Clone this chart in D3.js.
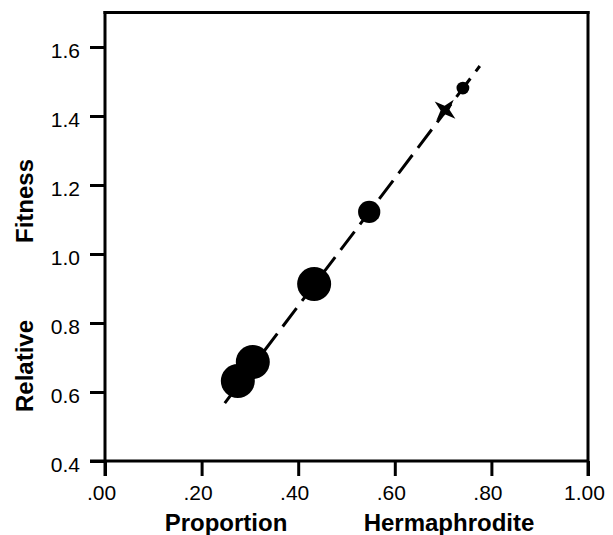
<!DOCTYPE html>
<html>
<head>
<meta charset="utf-8">
<script src="https://cdn.jsdelivr.net/npm/d3@7"></script>
<style>
    body { margin: 0; background: #fff; }
    svg { display: block; font-family: "Liberation Sans", Arial, Helvetica, sans-serif; }
</style>
</head>
<body>
<div id="svg-container"></div>
<script>

// proportion hermaphrodite vs relative fitness
const propHerm = [0.275, 0.306, 0.433, 0.547, 0.741];
const relFitness = [0.632, 0.687, 0.913, 1.122, 1.481];
const weight = [7, 7, 7, 3, 1];

// the "x" point
const crossX = [0.704];
const crossY = [1.417];

// fitted line, ends
const lineX = [0.248, 0.776];
const lineY = [0.568, 1.545];

const xTicks = [0, 0.2, 0.4, 0.6, 0.8, 1.0];
const xTickLabels = [".00", ".20", ".40", ".60", ".80", "1.00"];
const yTicks = [0.4, 0.6, 0.8, 1.0, 1.2, 1.4, 1.6];

const buildChart = () => {

    const [width, height] = [613, 535];
    const svg = d3.select("#svg-container")
        .append("svg")
        .attr("width", width)
        .attr("height", height);

    const x = d3.scaleLinear().domain([0, 1]).range([105, 588]);
    const y = d3.scaleLinear().domain([0.4, 1.7]).range([461, 12.5]);
    const r = d3.scaleSqrt().domain([0, 7]).range([0, 17]);

    const tickLen = 15;
    const stroke = 3;

    // frame + axis lines
    const frame = svg.append("g")
        .attr("stroke", "#000")
        .attr("stroke-width", stroke)
        .attr("fill", "none");

    frame.append("line")
        .attr("x1", x(0)).attr("x2", x(0))
        .attr("y1", y.range()[1] - 1.5).attr("y2", y(0.4) + tickLen);
    frame.append("line")
        .attr("x1", x(1)).attr("x2", x(1))
        .attr("y1", y.range()[1] - 1.5).attr("y2", y(0.4) + tickLen);
    frame.append("line")
        .attr("x1", x(0) - 1.5).attr("x2", x(1) + 1.5)
        .attr("y1", y.range()[1]).attr("y2", y.range()[1]);
    frame.append("line")
        .attr("x1", x(0) - tickLen).attr("x2", x(1))
        .attr("y1", y(0.4)).attr("y2", y(0.4));

    // x axis
    const xAxis = svg.append("g")
        .attr("transform", `translate(0,${y(0.4)})`)
        .call(d3.axisBottom(x)
            .tickValues(xTicks)
            .tickFormat((d, i) => xTickLabels[i])
            .tickSize(tickLen)
            .tickPadding(9));
    xAxis.select(".domain").remove();
    xAxis.selectAll(".tick line").attr("stroke-width", stroke);
    xAxis.selectAll(".tick text")
        .attr("font-size", 21)
        .attr("font-family", null)
        .attr("dx", -4)
        .attr("fill", "#000");

    // y axis
    const yAxis = svg.append("g")
        .attr("transform", `translate(${x(0)},0)`)
        .call(d3.axisLeft(y)
            .tickValues(yTicks)
            .tickFormat(d3.format(".1f"))
            .tickSize(tickLen)
            .tickPadding(10));
    yAxis.select(".domain").remove();
    yAxis.selectAll(".tick line").attr("stroke-width", stroke);
    yAxis.selectAll(".tick text")
        .attr("font-size", 21)
        .attr("font-family", null)
        .attr("dy", "0.5em")
        .attr("fill", "#000");

    // axis titles
    const title = (tx, ty, rot, label) => svg.append("text")
        .attr("transform", `translate(${tx},${ty}) rotate(${rot})`)
        .attr("text-anchor", "middle")
        .attr("font-size", 24)
        .attr("font-weight", 700)
        .text(label);

    title(226, 531, 0, "Proportion");
    title(449, 531, 0, "Hermaphrodite");
    title(33, 201, -90, "Fitness");
    title(33, 366, -90, "Relative");

    // dashed fit line
    const line = d3.line()
        .x(d => x(d[0]))
        .y(d => y(d[1]));
    svg.append("path")
        .datum(d3.zip(lineX, lineY))
        .attr("d", line)
        .attr("fill", "none")
        .attr("stroke", "#000")
        .attr("stroke-width", stroke)
        .attr("stroke-dasharray", "23,9");

    // bubbles
    svg.append("g")
        .selectAll("circle")
        .data(d3.zip(propHerm, relFitness, weight))
        .enter()
        .append("circle")
        .attr("cx", d => x(d[0]))
        .attr("cy", d => y(d[1]))
        .attr("r", d => r(d[2]))
        .attr("fill", "#000");

    // x-shaped marker: 4-point star
    const star = d3.lineRadial()
        .angle((d, i) => i * Math.PI / 4)
        .radius((d, i) => i % 2 ? 4.5 : 13.5)
        .curve(d3.curveLinearClosed);
    svg.append("g")
        .selectAll("path")
        .data(d3.zip(crossX, crossY))
        .enter()
        .append("path")
        .attr("transform", d => `translate(${x(d[0])},${y(d[1])}) rotate(40)`)
        .attr("d", star(d3.range(8)))
        .attr("fill", "#000");
};

buildChart();
</script>
</body>
</html>
